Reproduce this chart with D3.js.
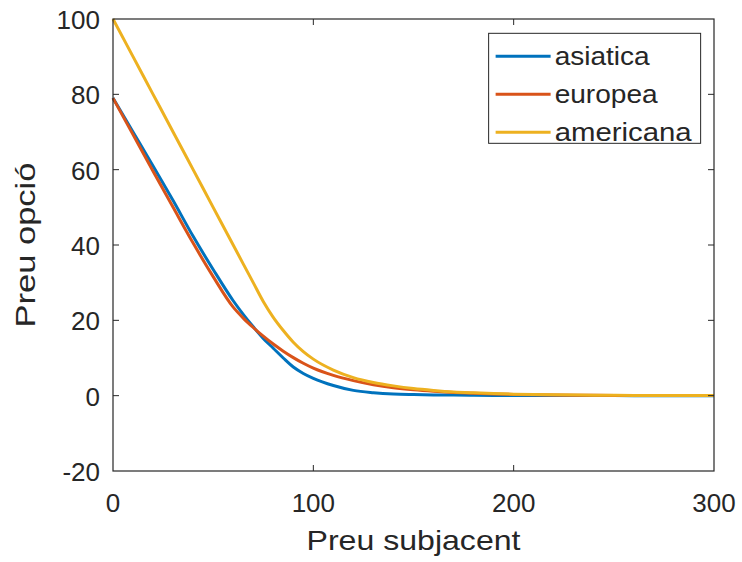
<!DOCTYPE html>
<html>
<head>
<meta charset="utf-8">
<script src="https://cdn.jsdelivr.net/npm/d3@7"></script>
<style>
    body { margin: 0; background: #fff; }
    text { font-family: "Liberation Sans", Arial, sans-serif; fill: #262626; }
</style>
</head>
<body>
<div id="plot"></div>
<script>
// preu subjacent (S)
const prices = [0, 10, 20, 30, 40, 50, 60, 65, 70, 75, 80, 85, 90, 95, 100, 110, 120, 130, 140, 150, 160, 170, 180, 190, 200, 220, 240, 260, 280, 300];

const asiatica = [79, 70, 61, 51.8, 42.3, 33.5, 25.2, 21.6, 18.3, 15.2, 12.6, 10.0, 7.6, 5.9, 4.6, 2.7, 1.4, 0.8, 0.45, 0.3, 0.2, 0.15, 0.1, 0.07, 0.05, 0.03, 0.02, 0.01, 0.01, 0];
const europea = [79, 69.3, 59.6, 50, 40.5, 31.6, 23.5, 20.6, 18.1, 15.8, 13.7, 11.8, 10.1, 8.6, 7.3, 5.4, 4.0, 2.9, 2.1, 1.55, 1.15, 0.85, 0.62, 0.45, 0.33, 0.18, 0.1, 0.05, 0.03, 0.02];
const americana = [100, 90, 80, 70, 60, 50, 40, 35, 30, 25, 20.8, 17.3, 14.2, 11.7, 9.7, 6.8, 4.8, 3.5, 2.6, 1.9, 1.4, 1.0, 0.75, 0.55, 0.4, 0.22, 0.12, 0.07, 0.04, 0.02];

const seriesNames = ["asiatica", "europea", "americana"];
const seriesColors = ["#0072BD", "#D95319", "#EDB120"];
const legendWidths = [95, 103, 137];

const xTicks = [0, 100, 200, 300];
const yTicks = [-20, 0, 20, 40, 60, 80, 100];

const width = 742, height = 562;
const margin = { top: 19, right: 28, bottom: 91, left: 113 };
const plotW = width - margin.left - margin.right;
const plotH = height - margin.top - margin.bottom;

const svg = d3.select("#plot").append("svg")
    .attr("width", width)
    .attr("height", height);

const g = svg.append("g")
    .attr("transform", "translate(" + margin.left + "," + margin.top + ")");

const x = d3.scaleLinear().domain([0, 300]).range([0, plotW]);
const y = d3.scaleLinear().domain([-20, 100]).range([plotH, 0]);

// lines
const line = d3.line()
    .x((d, i) => x(prices[i]))
    .y(d => y(d))
    .curve(d3.curveMonotoneX);

[asiatica, europea, americana].forEach((vals, k) => {
    g.append("path")
        .datum(vals)
        .attr("fill", "none")
        .attr("stroke", seriesColors[k])
        .attr("stroke-width", 3)
        .attr("d", line);
});

// axes box with mirrored inner ticks
const axisColor = "#262626";
const tickLen = 6;

g.append("rect")
    .attr("width", plotW)
    .attr("height", plotH)
    .attr("fill", "none")
    .attr("stroke", axisColor)
    .attr("stroke-width", 1.2);

g.append("g").selectAll("line")
    .data(xTicks.slice(1, -1))
    .join("line")
    .attr("x1", d => x(d)).attr("x2", d => x(d))
    .attr("y1", plotH).attr("y2", plotH - tickLen)
    .attr("stroke", axisColor);

g.append("g").selectAll("line")
    .data(xTicks.slice(1, -1))
    .join("line")
    .attr("x1", d => x(d)).attr("x2", d => x(d))
    .attr("y1", 0).attr("y2", tickLen)
    .attr("stroke", axisColor);

g.append("g").selectAll("line")
    .data(yTicks.slice(1, -1))
    .join("line")
    .attr("x1", 0).attr("x2", tickLen)
    .attr("y1", d => y(d)).attr("y2", d => y(d))
    .attr("stroke", axisColor);

g.append("g").selectAll("line")
    .data(yTicks.slice(1, -1))
    .join("line")
    .attr("x1", plotW).attr("x2", plotW - tickLen)
    .attr("y1", d => y(d)).attr("y2", d => y(d))
    .attr("stroke", axisColor);

// tick labels
g.append("g").selectAll("text")
    .data(xTicks)
    .join("text")
    .attr("x", d => x(d))
    .attr("y", plotH + 41)
    .attr("text-anchor", "middle")
    .attr("font-size", 26)
    .text(d => d);

g.append("g").selectAll("text")
    .data(yTicks)
    .join("text")
    .attr("x", -13)
    .attr("y", d => y(d) + 10)
    .attr("text-anchor", "end")
    .attr("font-size", 26)
    .text(d => d);

// axis labels
g.append("text")
    .attr("x", plotW / 2)
    .attr("y", plotH + 79)
    .attr("text-anchor", "middle")
    .attr("font-size", 28)
    .attr("textLength", 214)
    .attr("lengthAdjust", "spacingAndGlyphs")
    .text("Preu subjacent");

g.append("text")
    .attr("transform", "rotate(-90)")
    .attr("x", -plotH / 2)
    .attr("y", -78)
    .attr("text-anchor", "middle")
    .attr("font-size", 28)
    .attr("textLength", 165)
    .attr("lengthAdjust", "spacingAndGlyphs")
    .text("Preu opció");

// legend
const legend = g.append("g")
    .attr("transform", "translate(" + (x(187.5)) + "," + (y(96.2)) + ")");

legend.append("rect")
    .attr("width", 212)
    .attr("height", 110)
    .attr("fill", "#fff")
    .attr("stroke", axisColor)
    .attr("stroke-width", 1);

seriesNames.forEach((name, k) => {
    const row = legend.append("g")
        .attr("transform", "translate(0," + (23 + k * 38) + ")");
    row.append("line")
        .attr("x1", 7).attr("x2", 62)
        .attr("y1", 0).attr("y2", 0)
        .attr("stroke", seriesColors[k])
        .attr("stroke-width", 3);
    row.append("text")
        .attr("x", 66)
        .attr("y", 9)
        .attr("font-size", 25)
        .attr("textLength", legendWidths[k])
        .attr("lengthAdjust", "spacingAndGlyphs")
        .text(name);
});
</script>
</body>
</html>
